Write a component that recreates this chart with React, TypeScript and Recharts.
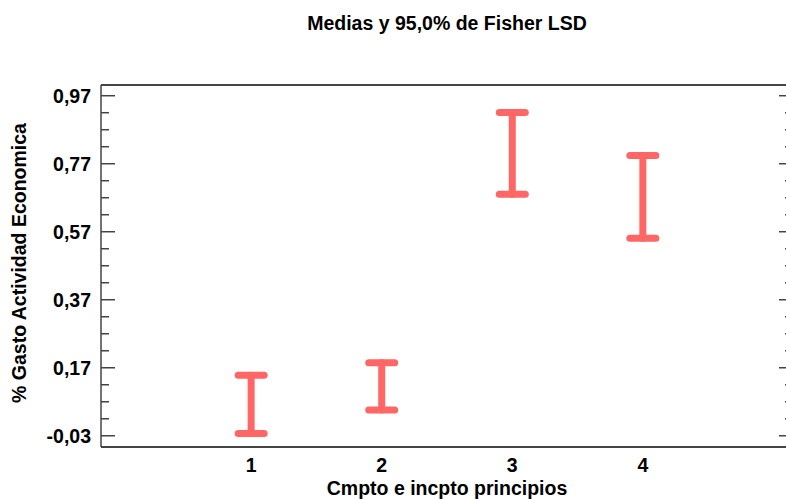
import { ComposedChart, Scatter, ErrorBar, XAxis, YAxis } from 'recharts';

const TITLE = 'Medias y 95,0% de Fisher LSD';
const X_TITLE = 'Cmpto e incpto principios';
const Y_TITLE = '% Gasto Actividad Economica';

// groups on the x axis and the LSD interval limits
const GROUPS = [1, 2, 3, 4];
const LOWER = [-0.023, 0.046, 0.68, 0.551];
const UPPER = [0.148, 0.185, 0.921, 0.794];

const Y_MAJOR = [-0.03, 0.17, 0.37, 0.57, 0.77, 0.97];
const Y_TICKS = [
  -0.03, 0.02, 0.07, 0.12, 0.17, 0.22, 0.27, 0.32, 0.37, 0.42, 0.47,
  0.52, 0.57, 0.62, 0.67, 0.72, 0.77, 0.82, 0.87, 0.92, 0.97,
];

const X_DOMAIN: [number, number] = [-0.15, 5.15];
const Y_DOMAIN: [number, number] = [-0.063, 1.0015];

const FONT = "'Liberation Sans', Arial, sans-serif";
const FONT_SIZE = 19.5;
const RED = '#ff6666';
const AXIS = '#444';

const data = GROUPS.map((g, i) => {
  const mean = (LOWER[i] + UPPER[i]) / 2;
  return { x: g, mean, err: [mean - LOWER[i], UPPER[i] - mean] };
});

const isMajor = (v: number) => Y_MAJOR.some((m) => Math.abs(m - v) < 1e-6);
const fmt = (v: number) => v.toFixed(2).replace('.', ',');

// ticks point into the plot, labels sit outside
function LeftTick({ x, y, payload }: any) {
  const major = isMajor(payload.value);
  const ax = x + 10;
  return (
    <g>
      <line x1={ax} x2={ax + (major ? 14 : 8)} y1={y} y2={y} stroke={AXIS} strokeWidth={1.5} />
      {major && (
        <text x={x} y={y} dy="0.36em" textAnchor="end" fontFamily={FONT} fontSize={FONT_SIZE} fontWeight="bold" fill="#000">
          {fmt(payload.value)}
        </text>
      )}
    </g>
  );
}

function RightTick({ x, y, payload }: any) {
  const major = isMajor(payload.value);
  return <line x1={x} x2={x - (major ? 14 : 8)} y1={y} y2={y} stroke={AXIS} strokeWidth={1.5} />;
}

function BottomTick({ x, y, payload }: any) {
  return (
    <text x={x} y={y + 25} textAnchor="middle" fontFamily={FONT} fontSize={FONT_SIZE} fontWeight="bold" fill="#000">
      {payload.value}
    </text>
  );
}

export default function App() {
  return (
    <div style={{ width: 786, height: 499, overflow: 'hidden', position: 'relative', background: '#fff' }}>
      <style>{'body{margin:0}'}</style>
      <div
        style={{
          position: 'absolute',
          left: 0,
          top: 12.5,
          width: 894,
          textAlign: 'center',
          fontFamily: FONT,
          fontSize: FONT_SIZE,
          fontWeight: 'bold',
          lineHeight: '20px',
          color: '#000',
          whiteSpace: 'nowrap',
        }}
      >
        {TITLE}
      </div>
      <ComposedChart width={800} height={499} data={data} margin={{ top: 84, right: 0, bottom: 0, left: 0 }}>
        <XAxis
          xAxisId="bottom"
          type="number"
          dataKey="x"
          domain={X_DOMAIN}
          allowDataOverflow
          ticks={GROUPS}
          interval={0}
          height={52}
          tickSize={0}
          tickMargin={0}
          tickLine={false}
          tick={<BottomTick />}
          axisLine={{ stroke: AXIS, strokeWidth: 2 }}
          label={{
            content: (p: any) => {
              const vb = p.viewBox;
              const cx = vb ? vb.x + vb.width / 2 : 447;
              return (
                <text x={cx} y={495} textAnchor="middle" fontFamily={FONT} fontSize={FONT_SIZE} fontWeight="bold" fill="#000">
                  {X_TITLE}
                </text>
              );
            },
          }}
        />
        <XAxis
          xAxisId="top"
          orientation="top"
          type="number"
          domain={X_DOMAIN}
          allowDataOverflow
          height={1}
          tick={false}
          tickLine={false}
          axisLine={{ stroke: AXIS, strokeWidth: 2 }}
        />
        <YAxis
          yAxisId="left"
          type="number"
          domain={Y_DOMAIN}
          allowDataOverflow
          ticks={Y_TICKS}
          interval={0}
          width={101}
          tickSize={0}
          tickMargin={10}
          tickLine={false}
          tick={<LeftTick />}
          axisLine={{ stroke: AXIS, strokeWidth: 1.5 }}
          label={{
            content: (p: any) => {
              const vb = p.viewBox;
              const cy = vb ? vb.y + vb.height / 2 - 3 : 263;
              return (
                <text x={26} y={cy} transform={`rotate(-90 26 ${cy})`} textAnchor="middle" fontFamily={FONT} fontSize={FONT_SIZE} fontWeight="bold" fill="#000">
                  {Y_TITLE}
                </text>
              );
            },
          }}
        />
        <YAxis
          yAxisId="right"
          orientation="right"
          type="number"
          domain={Y_DOMAIN}
          allowDataOverflow
          ticks={Y_TICKS}
          interval={0}
          width={7}
          tickSize={0}
          tickMargin={0}
          tickLine={false}
          tick={<RightTick />}
          axisLine={{ stroke: AXIS, strokeWidth: 1.5 }}
        />
        <Scatter
          xAxisId="bottom"
          yAxisId="left"
          dataKey="mean"
          fill="none"
          shape={() => <g />}
          isAnimationActive={false}
        >
          <ErrorBar
            dataKey="err"
            direction="y"
            width={13}
            stroke={RED}
            strokeWidth={7}
            strokeLinecap="round"
            isAnimationActive={false}
          />
        </Scatter>
      </ComposedChart>
    </div>
  );
}
